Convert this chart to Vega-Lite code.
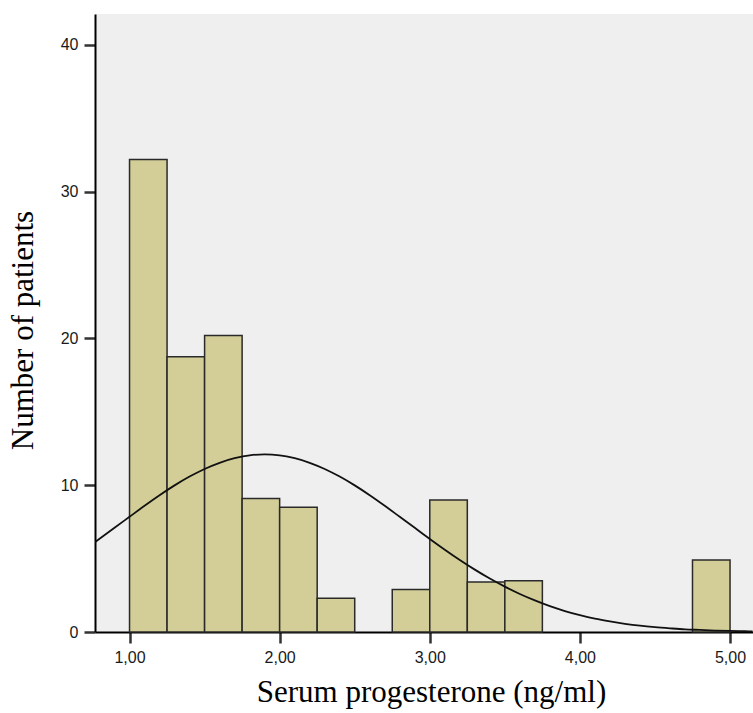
{
  "$schema": "https://vega.github.io/schema/vega-lite/v6.json",
  "autosize": {"type": "none"},
  "width": 658,
  "height": 618,
  "padding": {"left": 95, "top": 14, "right": 0, "bottom": 81},
  "background": "#ffffff",
  "config": {
    "view": {"stroke": null, "fill": "#efefef"},
    "axis": {
      "labelFont": "Liberation Sans",
      "labelFontSize": 16,
      "labelColor": "#1a1a1a",
      "titleFont": "Liberation Serif",
      "titleFontSize": 31,
      "titleFontWeight": "normal",
      "titleColor": "#000000",
      "domainColor": "#000000",
      "domainWidth": 2,
      "tickColor": "#333333",
      "tickWidth": 2.5,
      "tickSize": 11,
      "grid": false
    }
  },
  "datasets": {
    "bins": [
      {"bin_start": 1.00, "bin_end": 1.25, "count": 32.2},
      {"bin_start": 1.25, "bin_end": 1.50, "count": 18.75},
      {"bin_start": 1.50, "bin_end": 1.75, "count": 20.2},
      {"bin_start": 1.75, "bin_end": 2.00, "count": 9.1},
      {"bin_start": 2.00, "bin_end": 2.25, "count": 8.5},
      {"bin_start": 2.25, "bin_end": 2.50, "count": 2.3},
      {"bin_start": 2.75, "bin_end": 3.00, "count": 2.9},
      {"bin_start": 3.00, "bin_end": 3.25, "count": 9.0},
      {"bin_start": 3.25, "bin_end": 3.50, "count": 3.4},
      {"bin_start": 3.50, "bin_end": 3.75, "count": 3.5},
      {"bin_start": 4.75, "bin_end": 5.00, "count": 4.9}
    ],
    "curve": [
      {"x": 0.77, "y": 6.12}, {"x": 0.9, "y": 7.10}, {"x": 1.0, "y": 7.85},
      {"x": 1.1, "y": 8.60}, {"x": 1.2, "y": 9.32}, {"x": 1.3, "y": 9.99},
      {"x": 1.4, "y": 10.59}, {"x": 1.5, "y": 11.11}, {"x": 1.6, "y": 11.53},
      {"x": 1.7, "y": 11.84}, {"x": 1.8, "y": 12.04}, {"x": 1.9, "y": 12.10},
      {"x": 2.0, "y": 12.04}, {"x": 2.1, "y": 11.84}, {"x": 2.2, "y": 11.53},
      {"x": 2.3, "y": 11.11}, {"x": 2.4, "y": 10.59}, {"x": 2.5, "y": 9.99},
      {"x": 2.6, "y": 9.32}, {"x": 2.7, "y": 8.60}, {"x": 2.8, "y": 7.85},
      {"x": 2.9, "y": 7.10}, {"x": 3.0, "y": 6.34}, {"x": 3.1, "y": 5.61},
      {"x": 3.2, "y": 4.91}, {"x": 3.3, "y": 4.25}, {"x": 3.4, "y": 3.64},
      {"x": 3.5, "y": 3.09}, {"x": 3.6, "y": 2.59}, {"x": 3.7, "y": 2.15},
      {"x": 3.8, "y": 1.76}, {"x": 3.9, "y": 1.43}, {"x": 4.0, "y": 1.15},
      {"x": 4.1, "y": 0.91}, {"x": 4.2, "y": 0.72}, {"x": 4.3, "y": 0.56},
      {"x": 4.4, "y": 0.43}, {"x": 4.5, "y": 0.33}, {"x": 4.6, "y": 0.25},
      {"x": 4.7, "y": 0.18}, {"x": 4.8, "y": 0.14}, {"x": 4.9, "y": 0.10},
      {"x": 5.0, "y": 0.07}, {"x": 5.1, "y": 0.05}, {"x": 5.15, "y": 0.04}
    ]
  },
  "layer": [
    {
      "data": {"name": "bins"},
      "mark": {"type": "rect", "fill": "#d3ce98", "stroke": "#2a2a2a", "strokeWidth": 1.5},
      "encoding": {
        "x": {
          "field": "bin_start", "type": "quantitative",
          "scale": {"domain": [0.77, 5.153], "nice": false, "zero": false},
          "axis": {
            "values": [1, 2, 3, 4, 5],
            "labelExpr": "replace(format(datum.value, '.2f'), '.', ',')",
            "labelPadding": 6,
            "title": "Serum progesterone (ng/ml)",
            "titlePadding": 12,
            "titleX": 336
          }
        },
        "x2": {"field": "bin_end"},
        "y": {
          "field": "count", "type": "quantitative",
          "scale": {"domain": [0, 42.11], "nice": false},
          "axis": {
            "values": [0, 10, 20, 30, 40],
            "labelPadding": 6,
            "title": "Number of patients",
            "titlePadding": 21,
            "titleY": 316
          }
        },
        "y2": {"datum": 0}
      }
    },
    {
      "data": {"name": "curve"},
      "mark": {"type": "line", "color": "#111111", "strokeWidth": 1.8, "clip": true, "interpolate": "monotone"},
      "encoding": {
        "x": {"field": "x", "type": "quantitative"},
        "y": {"field": "y", "type": "quantitative"}
      }
    },
    {
      "mark": {"type": "rule", "color": "#6a6a6a", "strokeWidth": 2.5},
      "encoding": {
        "y": {"datum": 42.11}
      }
    }
  ]
}
